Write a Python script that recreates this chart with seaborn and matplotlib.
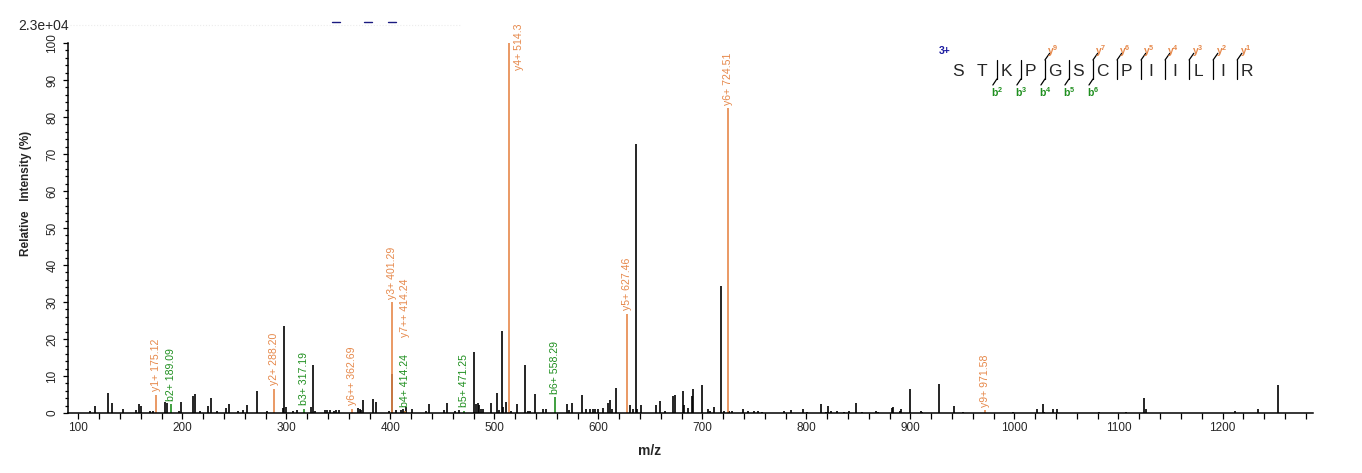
"""MS/MS spectrum of STKPGSCPIILIR (3+) with annotated b/y fragment ions."""

import matplotlib
matplotlib.use("Agg")
import matplotlib.pyplot as plt
import seaborn as sns
from matplotlib.lines import Line2D
from matplotlib.ticker import MultipleLocator

# unannotated peaks (m/z, relative intensity %)
peak_mz = [111.3, 116.0, 128.8, 132.2, 143.3, 155.5, 158.4, 160.3, 168.6, 172.3,
           183.2, 184.9, 196.8, 198.9, 210.6, 212.4, 217.0, 225.0, 227.3, 233.0,
           241.7, 244.9, 253.8, 258.7, 262.0, 271.5, 281.7, 296.5, 298.1, 299.3,
           306.7, 310.6, 324.0, 326.0, 327.8, 337.0, 339.5, 342.0, 345.5, 348.0,
           351.0, 369.2, 370.5, 372.0, 374.0, 383.7, 386.0, 399.0, 401.6, 405.5,
           410.0, 412.0, 415.0, 421.0, 434.0, 436.8, 452.0, 454.8, 462.5, 466.4,
           480.8, 481.9, 484.0, 485.3, 487.5, 489.3, 497.0, 502.3, 504.0, 507.0,
           508.2, 511.6, 516.0, 522.0, 529.8, 532.0, 534.0, 539.4, 546.5, 549.7,
           570.0, 572.0, 575.0, 584.0, 588.0, 592.0, 594.5, 597.0, 600.0, 604.0,
           609.0, 611.5, 613.5, 617.3, 630.8, 633.7, 636.0, 637.5, 640.7, 655.8,
           659.0, 664.5, 672.0, 673.7, 681.7, 682.7, 686.5, 689.8, 690.8, 700.0,
           705.8, 707.4, 711.5, 717.7, 721.2, 725.7, 728.3, 739.4, 743.6, 749.7,
           753.3, 757.7, 778.8, 785.6, 796.5, 800.4, 814.4, 818.7, 821.2, 823.8,
           829.8, 836.3, 840.8, 847.5, 853.2, 867.0, 868.6, 882.1, 883.7, 890.1,
           891.4, 900.0, 910.0, 911.3, 927.9, 942.3, 951.0, 999.0, 1022.1, 1027.9,
           1028.8, 1037.5, 1040.8, 1081.7, 1107.1, 1125.0, 1126.3, 1211.9, 1234.6, 1253.3]
peak_int = [0.5, 1.8, 5.5, 2.6, 1.0, 0.9, 2.4, 2.0, 0.5, 0.5,
            3.0, 2.8, 0.6, 3.0, 4.6, 5.2, 0.5, 1.8, 4.0, 0.5,
            1.4, 2.5, 0.5, 0.9, 2.2, 6.0, 0.5, 1.4, 23.6, 1.5,
            0.5, 0.9, 1.7, 13.0, 0.6, 0.8, 0.7, 0.8, 0.6, 0.7,
            0.9, 1.3, 1.0, 0.8, 3.4, 3.8, 3.0, 0.5, 10.5, 0.8,
            0.9, 1.2, 1.5, 1.0, 0.6, 2.4, 0.8, 2.8, 0.5, 0.7,
            16.5, 2.4, 2.8, 2.2, 1.1, 1.0, 2.8, 5.5, 0.8, 22.2,
            1.5, 3.0, 0.6, 2.3, 13.0, 0.6, 0.6, 5.2, 1.2, 1.2,
            2.3, 0.7, 2.8, 4.8, 1.1, 1.0, 1.0, 1.1, 1.0, 1.3,
            2.6, 3.6, 1.0, 6.8, 2.1, 1.1, 72.6, 1.0, 2.2, 2.1,
            3.3, 0.6, 4.7, 4.9, 5.9, 2.1, 1.4, 4.5, 6.4, 7.5,
            1.0, 0.5, 1.5, 34.4, 0.5, 0.6, 0.5, 1.1, 0.5, 0.5,
            0.5, 0.4, 0.6, 0.7, 1.1, 0.4, 2.3, 0.4, 1.8, 0.5,
            0.5, 0.2, 0.5, 2.6, 0.4, 0.5, 0.3, 1.3, 1.6, 0.6,
            1.1, 6.4, 0.5, 0.4, 7.8, 1.8, 0.2, 0.2, 1.2, 2.5,
            0.4, 1.2, 1.2, 0.3, 0.3, 4.0, 1.2, 0.6, 1.2, 7.7]

# annotated fragment ions
ion_name = ["y1+", "b2+", "y2+", "b3+", "y6++", "y3+", "b4+", "y7++",
            "b5+", "y4+", "b6+", "y5+", "y6+", "y9+"]
ion_mz = [175.12, 189.09, 288.20, 317.19, 362.69, 401.29, 414.24, 414.24,
          471.25, 514.3, 558.29, 627.46, 724.51, 971.58]
ion_label = ["175.12", "189.09", "288.20", "317.19", "362.69", "401.29", "414.24", "414.24",
             "471.25", "514.3", "558.29", "627.46", "724.51", "971.58"]
ion_int = [5.0, 2.4, 6.5, 1.2, 1.2, 30.0, 0.6, 0.6,
           0.6, 100.0, 4.3, 26.8, 82.4, 0.8]

# peptide map
sequence = "STKPGSCPIILIR"
charge = "3+"
b_ions = [2, 3, 4, 5, 6]
y_ions = [9, 7, 6, 5, 4, 3, 2, 1]

ORANGE = "#e6884a"
GREEN = "#1f8f1f"
W, H = 1362, 473

sns.set_theme(style="ticks")
plt.rcParams["font.family"] = ["Liberation Sans", "DejaVu Sans"]
plt.rcParams["mathtext.fontset"] = "custom"
plt.rcParams["mathtext.rm"] = "Liberation Sans"
plt.rcParams["mathtext.bf"] = "Liberation Sans:bold"
plt.rcParams["mathtext.default"] = "regular"

fig = plt.figure(figsize=(W / 100, H / 100), dpi=100)
ax = fig.add_axes([68.3 / W, 1 - 413 / H, (1313 - 68.3) / W, 370 / H])

ax.vlines(peak_mz, 0, peak_int, color="black", lw=1.2)
ion_col = [ORANGE if n.startswith("y") else GREEN for n in ion_name]
ax.vlines(ion_mz, 0, ion_int, colors=ion_col, lw=1.2)

# label nudges in points (stacked / clipped labels)
nudge = {"y7++": (0, 53), "y4+": (7.2, -19.4)}
for n, mz, lab, it, c in zip(ion_name, ion_mz, ion_label, ion_int, ion_col):
    dx, dy = nudge.get(n, (0, 2.5))
    ax.annotate(f"{n} {lab}", xy=(mz, it), xytext=(dx, dy), textcoords="offset points",
                rotation=90, ha="center", va="bottom", color=c, fontsize=7.6,
                annotation_clip=False)

ax.set_xlim(90.4, 1287)
ax.set_ylim(0, 100)
ax.xaxis.set_major_locator(MultipleLocator(100))
ax.xaxis.set_minor_locator(MultipleLocator(20))
ax.yaxis.set_major_locator(MultipleLocator(10))
ax.yaxis.set_minor_locator(MultipleLocator(2))
ax.tick_params(axis="x", which="both", direction="out", length=4.3, width=0.9,
               labelsize=8.5, pad=2.5, color="black")
ax.tick_params(axis="y", which="major", direction="out", length=3.6, width=0.9,
               labelsize=8.5, pad=3.5, labelrotation=90, color="black")
ax.tick_params(axis="y", which="minor", direction="out", length=2.2, width=0.9, color="black")
for lbl in ax.get_yticklabels():
    lbl.set_va("center")
sns.despine(ax=ax)
for s in ("left", "bottom"):
    ax.spines[s].set_linewidth(1.1)
    ax.spines[s].set_color("black")

ax.set_xlabel("m/z", fontsize=10, fontweight="bold")
ax.xaxis.set_label_coords((650 - 68.3) / 1244.7, -0.085)
ax.set_ylabel("Relative   Intensity (%)", fontsize=8.5, fontweight="bold")
ax.yaxis.set_label_coords(-0.029, 0.593)

fig.text(18 / W, 1 - 26 / H, "2.3e+04", fontsize=10, va="center", ha="left")

# faint header remnants
fig.add_artist(Line2D([70 / W, 460 / W], [1 - 25 / H] * 2, transform=fig.transFigure,
                      color="#ececec", lw=0.8, ls=":"))
for x0, x1 in [(332, 340), (364, 372), (388, 396)]:
    fig.add_artist(Line2D([x0 / W, x1 / W], [1 - 22 / H] * 2, transform=fig.transFigure,
                          color="#1a1a80", lw=1.0))

# peptide sequence with fragment markers
SEQ_X0, SEQ_STEP, SEQ_Y = 958.3, 24.03, 71.7
TOP, BOT = 60, 79


def seg(xs, ys, color="black"):
    fig.add_artist(Line2D([x / W for x in xs], [1 - y / H for y in ys],
                          transform=fig.transFigure, color=color, lw=0.9))


for i, aa in enumerate(sequence):
    fig.text((SEQ_X0 + i * SEQ_STEP) / W, 1 - SEQ_Y / H, aa, fontsize=12.5,
             ha="center", va="center")
fig.text(945 / W, 1 - 50.7 / H, charge, fontsize=7.5, fontweight="bold",
         color="#1a1aa0", ha="center", va="center")

bounds = set([b for b in b_ions] + [len(sequence) - y for y in y_ions])
for idx in bounds:
    bx = SEQ_X0 + idx * SEQ_STEP - 9.5
    seg([bx, bx], [TOP, BOT])
for b in b_ions:
    bx = SEQ_X0 + b * SEQ_STEP - 9.5
    seg([bx, bx - 4], [BOT, BOT + 6])
    fig.text(bx / W, 1 - 91.7 / H, f"b$^{{{b}}}$", fontsize=7.5, fontweight="bold",
             color=GREEN, ha="center", va="center")
for y in y_ions:
    bx = SEQ_X0 + (len(sequence) - y) * SEQ_STEP - 9.5
    seg([bx, bx + 4.7], [TOP, TOP - 6.7])
    fig.text((bx + 8.3) / W, 1 - 50.7 / H, f"y$^{{{y}}}$", fontsize=7.5, fontweight="bold",
             color=ORANGE, ha="center", va="center")

fig.savefig("out.png", dpi=100)
